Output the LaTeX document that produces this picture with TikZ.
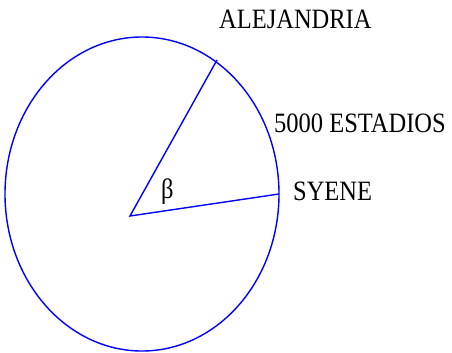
\documentclass[tikz,border=0pt]{standalone}
\usepackage{fontspec}
\setmainfont{Liberation Serif}
\begin{document}
\begin{tikzpicture}[x=1pt,y=-1pt,
  lbl/.style={inner sep=0pt,anchor=base west,font=\fontsize{28}{30}\selectfont,xscale=0.875},
  ln/.style={draw=blue,line width=1.4pt}]
\useasboundingbox (0,0) rectangle (452,353);
\draw[ln] (142,194) ellipse [x radius=137, y radius=157];
\coordinate (o) at (130,216);
\coordinate (a) at (217,60);
\coordinate (s) at (279,194);
\draw[ln] (a) -- (o) -- (s);
\node[lbl] (alej) at (219,29) {ALEJANDRIA};
\node[lbl] (est) at (274,132) {5000 ESTADIOS};
\node[lbl] (sy) at (293,200) {SYENE};
\node[lbl] (beta) at (161,198) {β};
\end{tikzpicture}
\end{document}
